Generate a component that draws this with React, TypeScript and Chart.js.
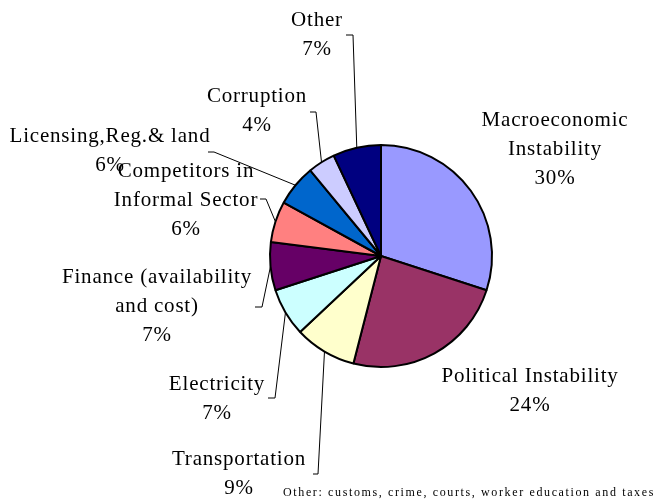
import React, { useEffect, useRef } from "react";
import { Chart, registerables } from "chart.js";

Chart.register(...registerables);

const categories: string[][] = [
  ["Macroeconomic", "Instability"],
  ["Political Instability"],
  ["Transportation"],
  ["Electricity"],
  ["Finance (availability", "and cost)"],
  ["Competitors in", "Informal Sector"],
  ["Licensing,Reg.& land"],
  ["Corruption"],
  ["Other"],
];
const values: number[] = [30, 24, 9, 7, 7, 6, 6, 4, 7];
const colors: string[] = [
  "#9999FF",
  "#993366",
  "#FFFFCC",
  "#CCFFFF",
  "#660066",
  "#FF8080",
  "#0066CC",
  "#CCCCFF",
  "#000080",
];
const footnote = "Other: customs, crime, courts, worker education and taxes";

// label layout: text center x, first baseline y, leader elbow points (text side)
const labelLayout: { x: number; y: number; leader: [number, number][] }[] = [
  { x: 555, y: 126, leader: [] },
  { x: 530, y: 382, leader: [] },
  { x: 239, y: 465, leader: [[313, 474], [318, 474]] },
  { x: 217, y: 390, leader: [[268, 398], [275, 398]] },
  { x: 157, y: 283, leader: [[255, 307], [262, 307]] },
  { x: 186, y: 177, leader: [[260, 199], [266, 199]] },
  { x: 110, y: 142, leader: [[208, 152], [214, 152]] },
  { x: 257, y: 102, leader: [[310, 112], [316, 112]] },
  { x: 317, y: 26, leader: [[346, 35], [353, 35]] },
];

const FONT = '"Liberation Serif", "Times New Roman", serif';
const LINE_H = 29;

const labelPlugin = {
  id: "outerLabels",
  afterDraw(chart: any) {
    const ctx = chart.ctx as CanvasRenderingContext2D;
    const meta = chart.getDatasetMeta(0);
    ctx.save();
    ctx.strokeStyle = "#000";
    ctx.lineWidth = 1;
    meta.data.forEach((arc: any, i: number) => {
      const lay = labelLayout[i];
      if (!lay.leader.length) return;
      const mid = (arc.startAngle + arc.endAngle) / 2;
      const ex = arc.x + Math.cos(mid) * arc.outerRadius;
      const ey = arc.y + Math.sin(mid) * arc.outerRadius;
      ctx.beginPath();
      ctx.moveTo(lay.leader[0][0], lay.leader[0][1]);
      for (let k = 1; k < lay.leader.length; k++) ctx.lineTo(lay.leader[k][0], lay.leader[k][1]);
      ctx.lineTo(ex, ey);
      ctx.stroke();
    });
    ctx.fillStyle = "#000";
    ctx.font = `21px ${FONT}`;
    (ctx as any).letterSpacing = "0.8px";
    ctx.textAlign = "center";
    ctx.textBaseline = "alphabetic";
    categories.forEach((lines, i) => {
      const lay = labelLayout[i];
      const all = [...lines, `${values[i]}%`];
      all.forEach((t, j) => ctx.fillText(t, lay.x, lay.y + j * LINE_H));
    });
    ctx.font = `12px ${FONT}`;
    (ctx as any).letterSpacing = "0px";
    const w0 = ctx.measureText(footnote).width;
    const target = 372;
    const sp = (target - w0) / footnote.length;
    (ctx as any).letterSpacing = `${sp}px`;
    ctx.textAlign = "left";
    ctx.fillText(footnote, 283, 496);
    ctx.restore();
  },
};

export default function App() {
  const ref = useRef<HTMLCanvasElement>(null);
  useEffect(() => {
    if (!ref.current) return;
    const chart = new Chart(ref.current, {
      type: "pie",
      data: {
        labels: categories.map((c) => c.join(" ")),
        datasets: [
          {
            data: values,
            backgroundColor: colors,
            borderColor: "#000",
            borderWidth: 2,
          },
        ],
      },
      options: {
        responsive: false,
        animation: false,
        layout: { padding: { left: 269, right: 164, top: 143, bottom: 130 } },
        plugins: {
          legend: { display: false },
          tooltip: { enabled: false },
        },
      },
      plugins: [labelPlugin],
    });
    return () => chart.destroy();
  }, []);
  return (
    <div style={{ position: "absolute", left: 0, top: 0, width: 657, height: 499, background: "#fff" }}>
      <canvas ref={ref} width={657} height={499} style={{ display: "block" }} />
    </div>
  );
}
